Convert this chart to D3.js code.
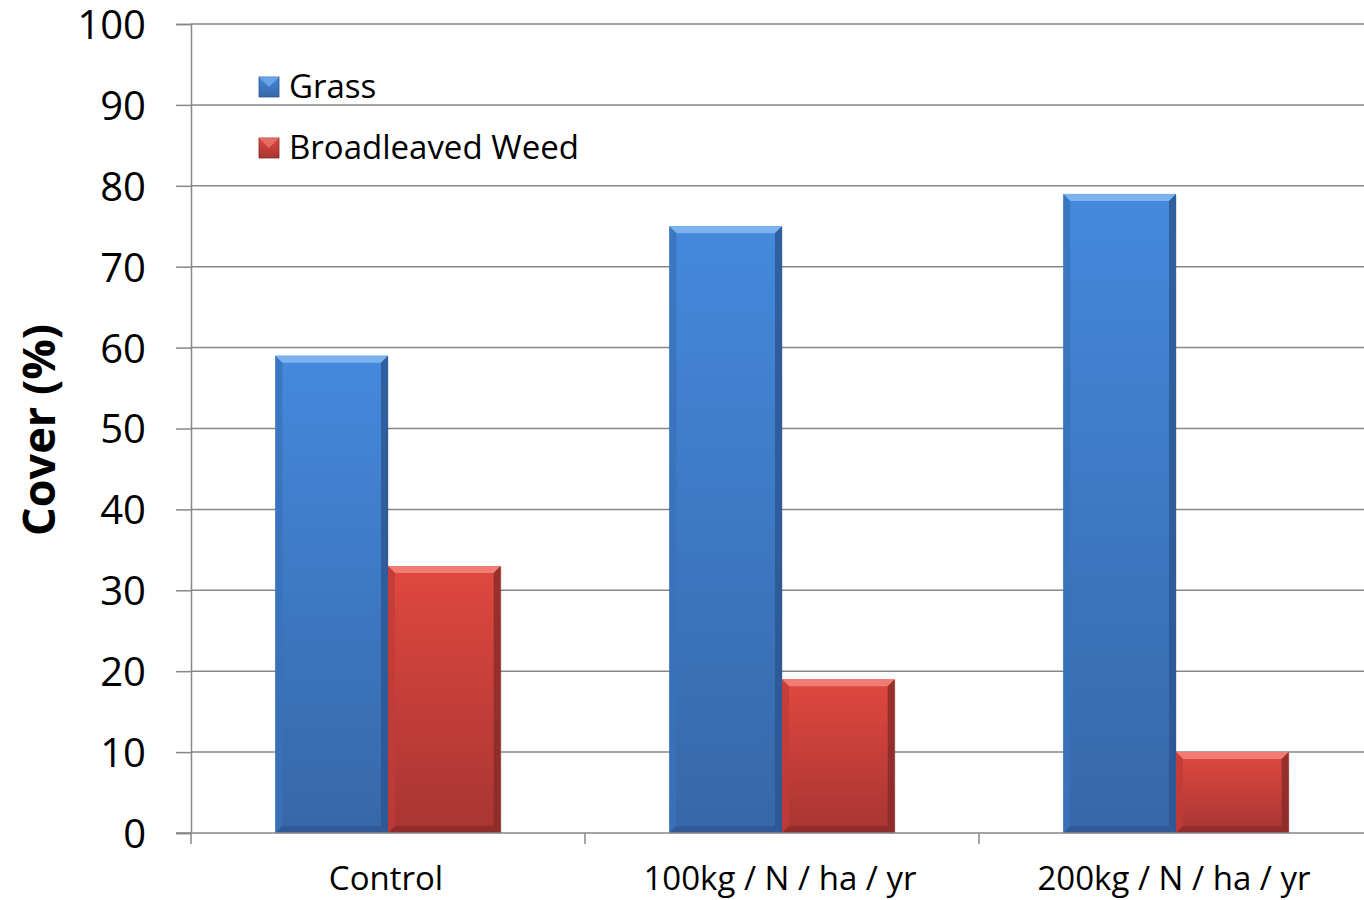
<!DOCTYPE html>
<html>
<head>
<meta charset="utf-8">
<script src="https://cdn.jsdelivr.net/npm/d3@7"></script>
<style>
  body { margin: 0; background: #fff; }
  text { font-family: "Open Sans", "Liberation Sans", sans-serif; fill: #000; }
</style>
</head>
<body>
<svg id="chart" width="1364" height="900"></svg>
<script>
// data
var categories = ["Control", "100kg / N / ha / yr", "200kg / N / ha / yr"];
var seriesNames = ["Grass", "Broadleaved Weed"];
var grassValues = [59, 75, 79];
var weedValues = [33, 19, 10];
var yTicks = [0, 10, 20, 30, 40, 50, 60, 70, 80, 90, 100];

var width = 1364;
var height = 900;
var plotLeft = 191, plotRight = 1373, plotTop = 24, plotBottom = 833;

var svg = d3.select("#chart")
    .attr("width", width)
    .attr("height", height);

var defs = svg.append("defs");
var colors = [
    {id: "blue", top: "#4489dc", bottom: "#3767a8", light: "#7cb2ef", dark: "#2c5590", side: "#3a72ba"},
    {id: "red", top: "#e0483f", bottom: "#a83532", light: "#f07c74", dark: "#862a28", side: "#bf3c38"}
];
colors.forEach(function(c)
{
    var g = defs.append("linearGradient")
        .attr("id", "grad-" + c.id)
        .attr("x1", 0).attr("y1", 0).attr("x2", 0).attr("y2", 1);
    g.append("stop").attr("offset", "0%").attr("stop-color", c.top);
    g.append("stop").attr("offset", "100%").attr("stop-color", c.bottom);
});

var yScale = d3.scaleLinear()
    .domain([0, 100])
    .range([plotBottom, plotTop]);

var xScale = d3.scaleBand()
    .domain(categories)
    .range([plotLeft, plotRight])
    .paddingInner(0)
    .paddingOuter(0);

var seriesScale = d3.scaleBand()
    .domain(seriesNames)
    .range([0, xScale.bandwidth()])
    .paddingOuter(0.748)
    .paddingInner(0);

// gridlines
svg.append("g")
    .selectAll("line")
    .data(yTicks.filter(function(t){ return t > 0; }))
    .enter()
    .append("line")
    .attr("x1", plotLeft)
    .attr("x2", width)
    .attr("y1", function(d){ return yScale(d); })
    .attr("y2", function(d){ return yScale(d); })
    .attr("stroke", "#878787")
    .attr("stroke-width", 1.5);

// y axis
var yAxis = d3.axisLeft(yScale)
    .tickValues(yTicks)
    .tickSize(15)
    .tickPadding(30);
var yG = svg.append("g")
    .attr("transform", "translate(" + plotLeft + ",0)")
    .call(yAxis);
yG.select(".domain").attr("stroke", "#878787").attr("stroke-width", 1.5);
yG.selectAll(".tick line").attr("stroke", "#878787").attr("stroke-width", 1.5);
yG.selectAll(".tick text")
    .style("font-size", "40px")
    .style("font-family", "'Open Sans', sans-serif")
    .attr("dy", "0.36em")
    .attr("fill", "#000");

// bars
var rows = [];
categories.forEach(function(cat, i)
{
    rows.push({cat: cat, series: seriesNames[0], value: grassValues[i], color: colors[0]});
    rows.push({cat: cat, series: seriesNames[1], value: weedValues[i], color: colors[1]});
});

var bev = 7;
var barG = svg.append("g")
    .selectAll("g")
    .data(rows)
    .enter()
    .append("g")
    .attr("transform", function(d)
    {
        return "translate(" + (xScale(d.cat) + seriesScale(d.series)) + "," + yScale(d.value) + ")";
    });

barG.append("rect")
    .attr("x", 1).attr("y", 1)
    .attr("width", seriesScale.bandwidth())
    .attr("height", function(d){ return plotBottom - yScale(d.value); })
    .attr("fill", "#000")
    .attr("opacity", 0.12);

barG.append("rect")
    .attr("width", seriesScale.bandwidth())
    .attr("height", function(d){ return plotBottom - yScale(d.value); })
    .attr("fill", function(d){ return "url(#grad-" + d.color.id + ")"; });

// bevel edges
barG.append("path")
    .attr("d", function(d)
    {
        var w = seriesScale.bandwidth();
        return "M0,0L" + w + ",0L" + (w - bev) + "," + bev + "L" + bev + "," + bev + "Z";
    })
    .attr("fill", function(d){ return d.color.light; });
barG.append("path")
    .attr("d", function(d)
    {
        var h = plotBottom - yScale(d.value);
        return "M0,0L" + bev + "," + bev + "L" + bev + "," + (h - bev) + "L0," + h + "Z";
    })
    .attr("fill", function(d){ return d.color.side; })
    .attr("opacity", 0.8);
barG.append("path")
    .attr("d", function(d)
    {
        var w = seriesScale.bandwidth();
        var h = plotBottom - yScale(d.value);
        return "M" + w + ",0L" + w + "," + h + "L" + (w - bev) + "," + (h - bev) + "L" + (w - bev) + "," + bev + "Z";
    })
    .attr("fill", function(d){ return d.color.dark; })
    .attr("opacity", 0.8);
barG.append("path")
    .attr("d", function(d)
    {
        var w = seriesScale.bandwidth();
        var h = plotBottom - yScale(d.value);
        return "M0," + h + "L" + bev + "," + (h - bev) + "L" + (w - bev) + "," + (h - bev) + "L" + w + "," + h + "Z";
    })
    .attr("fill", function(d){ return d.color.dark; })
    .attr("opacity", 0.7);

// x axis
svg.append("line")
    .attr("x1", plotLeft - 15).attr("x2", width)
    .attr("y1", plotBottom).attr("y2", plotBottom)
    .attr("stroke", "#878787").attr("stroke-width", 1.5);

svg.append("g")
    .selectAll("line")
    .data(categories)
    .enter()
    .append("line")
    .attr("x1", function(d){ return xScale(d); })
    .attr("x2", function(d){ return xScale(d); })
    .attr("y1", plotBottom)
    .attr("y2", plotBottom + 11)
    .attr("stroke", "#878787").attr("stroke-width", 1.5);

svg.append("g")
    .selectAll("text")
    .data(categories)
    .enter()
    .append("text")
    .attr("x", function(d){ return xScale(d) + xScale.bandwidth() / 2 - 2; })
    .attr("y", 890)
    .attr("text-anchor", "middle")
    .style("font-size", "33px")
    .text(function(d){ return d; });

// y axis title
svg.append("text")
    .attr("transform", "translate(55,430) rotate(-90)")
    .attr("text-anchor", "middle")
    .style("font-size", "45px")
    .style("font-weight", "bold")
    .text("Cover (%)");

// legend
var legend = svg.append("g")
    .selectAll("g")
    .data(seriesNames)
    .enter()
    .append("g")
    .attr("transform", function(d, i){ return "translate(259," + (77 + i * 61) + ")"; });

legend.append("rect")
    .attr("width", 20).attr("height", 20)
    .attr("fill", function(d, i){ return "url(#grad-" + colors[i].id + ")"; })
    .attr("stroke", function(d, i){ return colors[i].dark; })
    .attr("stroke-width", 0.8);
legend.append("path")
    .attr("d", "M0,0L20,0L10,10Z")
    .attr("fill", function(d, i){ return colors[i].light; })
    .attr("opacity", 0.7);

legend.append("text")
    .attr("x", 30)
    .attr("y", 21)
    .style("font-size", "33px")
    .text(function(d){ return d; });
</script>
</body>
</html>
